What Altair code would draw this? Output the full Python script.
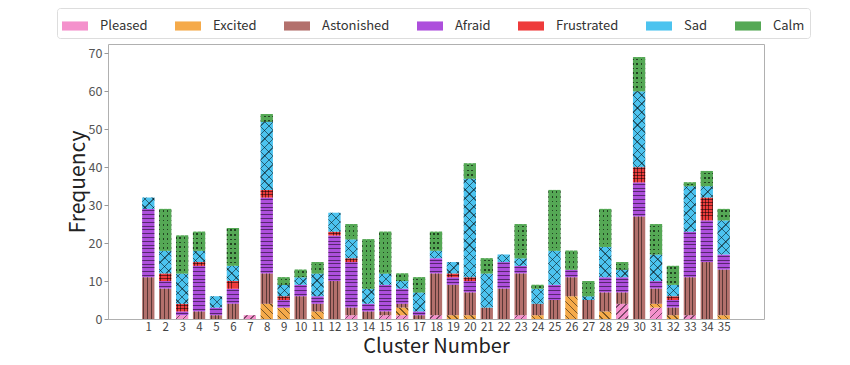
import altair as alt
import math

clusters = list(range(1, 36))
emotions = ["Pleased", "Excited", "Astonished", "Afraid", "Frustrated", "Sad", "Calm"]
colors = ["#f491cc", "#f5aa4a", "#b3706c", "#ad4fdc", "#ee3b3b", "#4cc3ef", "#55a855"]

pleased    = [0,0,1,0,0,0,1,0,0,0, 0,0,1,0,1,1,0,1,0,0, 0,0,1,0,0,0,0,0,4,0, 3,0,1,0,0]
excited    = [0,0,0,0,0,0,0,4,3,0, 2,0,0,0,0,2,0,0,1,1, 0,0,0,1,0,6,0,2,0,0, 1,1,0,0,1]
astonished = [11,8,0,2,1,4,0,8,0,6, 2,10,2,2,1,1,1,11,8,6, 3,8,11,3,5,5,5,5,3,27, 4,2,10,15,12]
afraid     = [18,2,1,12,2,4,0,20,2,3, 2,12,12,2,7,4,1,4,2,3, 0,7,2,0,4,2,0,4,4,9, 2,2,12,11,4]
frustrated = [0,2,2,1,0,2,0,2,1,0, 0,1,1,0,0,0,0,0,1,1, 0,0,0,0,0,0,0,0,0,4, 0,1,0,6,0]
sad        = [3,6,8,3,3,4,0,18,3,2, 6,5,5,4,3,2,5,2,3,26, 9,2,2,4,9,0,1,8,2,20, 7,3,12,3,9]
calm       = [0,11,10,5,0,10,0,2,2,2, 3,0,4,13,11,2,4,5,0,4, 4,0,9,1,16,5,4,10,2,9, 8,5,1,4,3]
series = [pleased, excited, astonished, afraid, frustrated, sad, calm]

# ---- styling constants -------------------------------------------------
FONT = "Noto Sans CJK JP"
PLOT_W, PLOT_H = 656, 275
Y_MAX = 72.45
X_DOM = [-1.085, 37.085]
BAR_PX = 12.3
PX_PER_UNIT = PLOT_H / Y_MAX
INK = "rgba(0,0,0,0.5)"
CLEAR = "rgba(0,0,0,0)"

# hatch spec per emotion: list of layers (direction, spacing px, line width px, colour)
hatch = {
    "Pleased":    [("/", 5.0, 1.0, INK)],
    "Excited":    [("\\", 5.0, 1.0, INK)],
    "Astonished": [("|", 3.6, 1.0, INK)],
    "Afraid":     [("-", 3.8, 1.0, INK)],
    "Frustrated": [("|", 3.3, 0.9, INK), ("-", 3.3, 0.9, INK)],
    "Sad":        [("/", 6.0, 0.9, INK), ("\\", 6.0, 0.9, INK)],
    "Calm":       [("-", 4.6, 1.5, "rgba(0,0,0,0.6)"), ("|", 4.2, 2.7, colors[6])],
}


def stripes(L, spacing, lw, col):
    stops = [{"offset": 0, "color": CLEAR}]
    if L <= 0:
        return stops + [{"offset": 1, "color": CLEAR}]
    c = spacing / 2.0
    while c < L:
        a = max(0.0, (c - lw / 2) / L)
        b = min(1.0, (c + lw / 2) / L)
        stops += [{"offset": a, "color": CLEAR}, {"offset": a, "color": col},
                  {"offset": b, "color": col}, {"offset": b, "color": CLEAR}]
        c += spacing
    stops.append({"offset": 1, "color": CLEAR})
    return stops


def gradient(direction, w, h, spacing, lw, col):
    if direction == "|":
        g = dict(x1=0, y1=0, x2=1, y2=0); L = w
    elif direction == "-":
        g = dict(x1=0, y1=0, x2=0, y2=1); L = h
    else:
        a = (w + h) / (w * w + h * h)
        L = (w + h) / math.sqrt(2)
        if direction == "/":
            g = dict(x1=0, y1=0, x2=a * w, y2=a * h)
        else:
            g = dict(x1=0, y1=1, x2=a * w, y2=1 - a * h)
    g["gradient"] = "linear"
    g["stops"] = stripes(L, spacing, lw, col)
    return g


records = []
for ci, c in enumerate(clusters):
    base = 0
    for k, name in enumerate(emotions):
        v = series[k][ci]
        if v > 0:
            h = v * PX_PER_UNIT
            specs = hatch[name]
            g1 = gradient(specs[0][0], BAR_PX, h, *specs[0][1:])
            g2 = gradient(specs[1][0], BAR_PX, h, *specs[1][1:]) if len(specs) > 1 else "transparent"
            records.append({"Cluster": c, "Emotion": name, "Count": v,
                            "y0": base, "y1": base + v, "g1": g1, "g2": g2})
        base += v

data = alt.Data(values=records)

x_axis = alt.Axis(values=clusters, title="Cluster Number", titleFontSize=20,
                  titleFontWeight="normal", titleColor="#222", labelFontSize=11.5,
                  labelColor="#444", ticks=False, labelPadding=2, domain=False,
                  grid=False, titlePadding=4, labelFlush=False, labelOverlap=False)
y_axis = alt.Axis(values=list(range(0, 80, 10)), title="Frequency", titleFontSize=21,
                  titleFontWeight="normal", titleColor="#222", labelFontSize=12.5,
                  labelColor="#555", tickSize=4, tickColor="#999", domain=False,
                  grid=False, titlePadding=0, labelOverlap=False)


def x_enc():
    return alt.X("Cluster:Q", scale=alt.Scale(domain=X_DOM, nice=False, zero=False), axis=x_axis)


def y_enc():
    return alt.Y("y0:Q", scale=alt.Scale(domain=[0, Y_MAX], nice=False), axis=y_axis)


base_layer = alt.Chart(data).mark_bar(size=BAR_PX, strokeWidth=0).encode(
    x=x_enc(), y=y_enc(), y2="y1:Q",
    color=alt.Color("Emotion:N", sort=emotions,
                    scale=alt.Scale(domain=emotions, range=colors),
                    legend=alt.Legend(orient="none", legendX=-51, legendY=-36,
                                      direction="horizontal", columns=7, title=None,
                                      symbolType="M-1,-0.35H1V0.35H-1Z", symbolSize=676,
                                      symbolStrokeWidth=0, symbolOpacity=1,
                                      labelFontSize=13, labelFont=FONT, labelColor="#333",
                                      labelOffset=12, columnPadding=27, padding=5,
                                      strokeColor="#dddddd", fillColor="white",
                                      cornerRadius=3)),
)

hatch1 = alt.Chart(data).mark_bar(size=BAR_PX, strokeWidth=0).encode(
    x=x_enc(), y=y_enc(), y2="y1:Q",
    fill=alt.Fill("g1:N", scale=None, legend=None),
)
hatch2 = alt.Chart(data).mark_bar(size=BAR_PX, strokeWidth=0).encode(
    x=x_enc(), y=y_enc(), y2="y1:Q",
    fill=alt.Fill("g2:N", scale=None, legend=None),
)

chart = alt.layer(base_layer, hatch1, hatch2).properties(
    width=PLOT_W, height=PLOT_H,
    autosize=alt.AutoSizeParams(type="none"),
    padding={"left": 100, "top": 36, "right": 78, "bottom": 44},
).configure(
    font=FONT,
).configure_axis(
    labelOverlap=False,
).configure_view(
    stroke="#b0b0b0", strokeWidth=1,
)

chart.save("out.html", embed_options={"renderer": "svg", "actions": False})
